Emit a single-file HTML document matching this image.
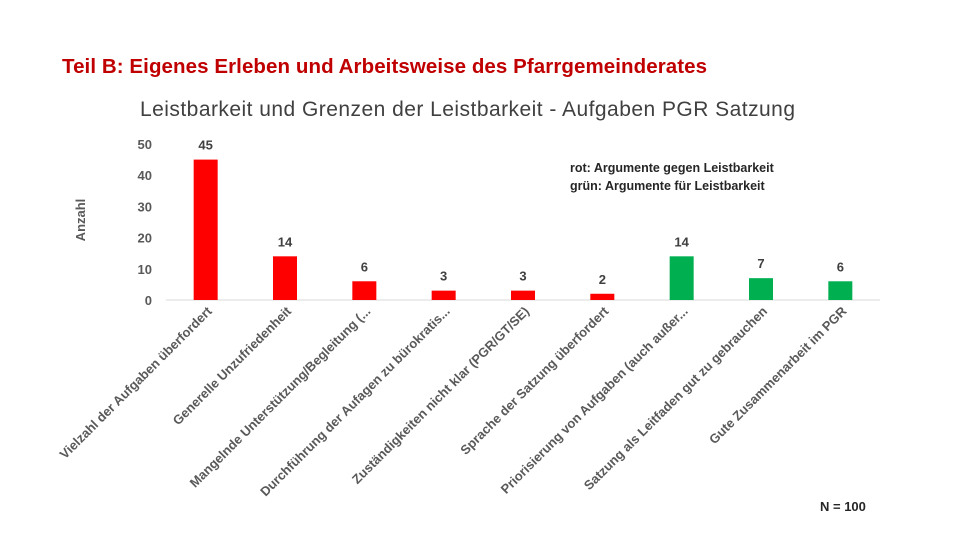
<!DOCTYPE html>
<html><head><meta charset="utf-8"><style>
body{margin:0;background:#fff;}
svg text{font-family:"Liberation Sans",sans-serif;}
</style></head><body>
<svg width="960" height="540" viewBox="0 0 960 540" xmlns="http://www.w3.org/2000/svg">
<text x="62" y="73" font-size="20.5" font-weight="bold" fill="#c00000" textLength="645" lengthAdjust="spacing">Teil B: Eigenes Erleben und Arbeitsweise des Pfarrgemeinderates</text>
<text x="140" y="116" font-size="21" fill="#404040" textLength="655" lengthAdjust="spacing">Leistbarkeit und Grenzen der Leistbarkeit - Aufgaben PGR Satzung</text>
<text transform="translate(85,220) rotate(-90)" font-size="13" font-weight="bold" fill="#595959" text-anchor="middle">Anzahl</text>
<text x="570" y="172" font-size="12.5" font-weight="bold" fill="#262626">rot: Argumente gegen Leistbarkeit</text>
<text x="570" y="190" font-size="12.5" font-weight="bold" fill="#262626">grün:  Argumente für Leistbarkeit</text>
<text x="820" y="511" font-size="13" font-weight="bold" fill="#262626">N = 100</text>
<g id="plot"></g>
</svg>
<script>
const categories=["Vielzahl der Aufgaben überfordert","Generelle Unzufriedenheit","Mangelnde Unterstützung/Begleitung (...","Durchführung der Aufagen zu bürokratis...","Zuständigkeiten nicht klar (PGR/GT/SE)","Sprache der Satzung überfordert","Priorisierung von Aufgaben (auch außer...","Satzung als Leitfaden gut zu gebrauchen","Gute Zusammenarbeit im PGR"];
const values=[45,14,6,3,3,2,14,7,6];
const colors=["#ff0000","#ff0000","#ff0000","#ff0000","#ff0000","#ff0000","#00b050","#00b050","#00b050"];
const yTicks=[0,10,20,30,40,50];
const NS="http://www.w3.org/2000/svg";
const g=document.getElementById('plot');
const x0=166,x1=880,yBase=300,pxPer=3.12;
const band=(x1-x0)/categories.length;
function xC(i){return x0+band*(i+0.5);}
function yS(v){return yBase-v*pxPer;}
function mk(t,a){const e=document.createElementNS(NS,t);for(const k in a)e.setAttribute(k,a[k]);g.appendChild(e);return e;}
yTicks.forEach(v=>{const t=mk('text',{x:152,y:yS(v)+5,'font-size':13,'font-weight':'bold',fill:'#595959','text-anchor':'end'});t.textContent=v;

});
const base=mk('line',{x1:x0,x2:x1,y1:yBase,y2:yBase,stroke:'#d9d9d9','stroke-width':1});


values.forEach((v,i)=>{
const r=mk('rect',{x:xC(i)-12,y:yS(v),width:24,height:v*pxPer,fill:colors[i]});


const l=mk('text',{x:xC(i),y:yS(v)-10,'font-size':13,'font-weight':'bold',fill:'#404040','text-anchor':'middle'});l.textContent=v;


const c=mk('text',{transform:`translate(${xC(i)+7},${yBase+12}) rotate(-45)`,'font-size':13,'font-weight':'bold',fill:'#595959','text-anchor':'end'});c.textContent=categories[i];


});
</script>
</body></html>
